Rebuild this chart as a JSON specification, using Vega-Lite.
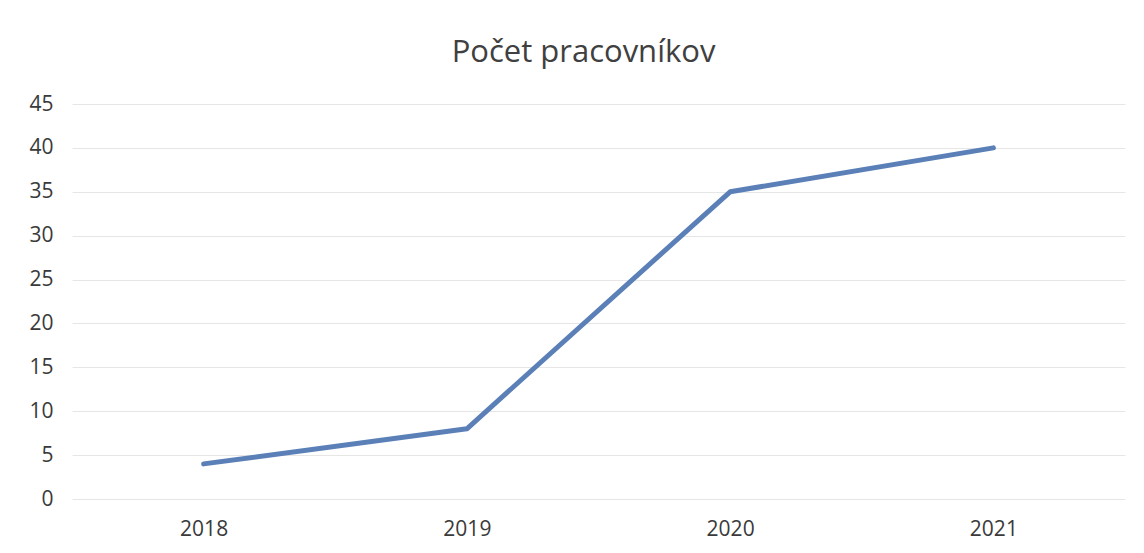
{
  "$schema": "https://vega.github.io/schema/vega-lite/v6.json",
  "width": 1053,
  "height": 395,
  "autosize": {"type": "none"},
  "padding": {"left": 72, "top": 104, "right": 19, "bottom": 54},
  "background": "white",
  "config": {"view": {"stroke": null}, "font": "Open Sans"},
  "title": {
    "text": "Počet pracovníkov",
    "fontSize": 31,
    "fontWeight": "normal",
    "color": "#404040",
    "font": "Open Sans",
    "anchor": "middle",
    "dx": -15,
    "offset": 24
  },
  "data": {
    "values": [
      {"rok": "2018", "pocet": 4},
      {"rok": "2019", "pocet": 8},
      {"rok": "2020", "pocet": 35},
      {"rok": "2021", "pocet": 40}
    ]
  },
  "mark": {"type": "line", "color": "#5b80b8", "strokeWidth": 5, "strokeCap": "round", "strokeJoin": "round"},
  "encoding": {
    "x": {
      "field": "rok",
      "type": "ordinal",
      "scale": {"type": "point", "padding": 0.5},
      "axis": {
        "title": null,
        "labelAngle": 0,
        "labelFontSize": 21,
        "labelColor": "#3a3a3a",
        "labelPadding": 19,
        "ticks": false,
        "domain": false,
        "grid": false
      }
    },
    "y": {
      "field": "pocet",
      "type": "quantitative",
      "scale": {"domain": [0, 45], "nice": false},
      "axis": {
        "title": null,
        "values": [0, 5, 10, 15, 20, 25, 30, 35, 40, 45],
        "labelFontSize": 21,
        "labelColor": "#3a3a3a",
        "labelPadding": 19,
        "ticks": false,
        "domain": false,
        "gridColor": "#e6e6e6",
        "gridWidth": 1
      }
    }
  }
}
